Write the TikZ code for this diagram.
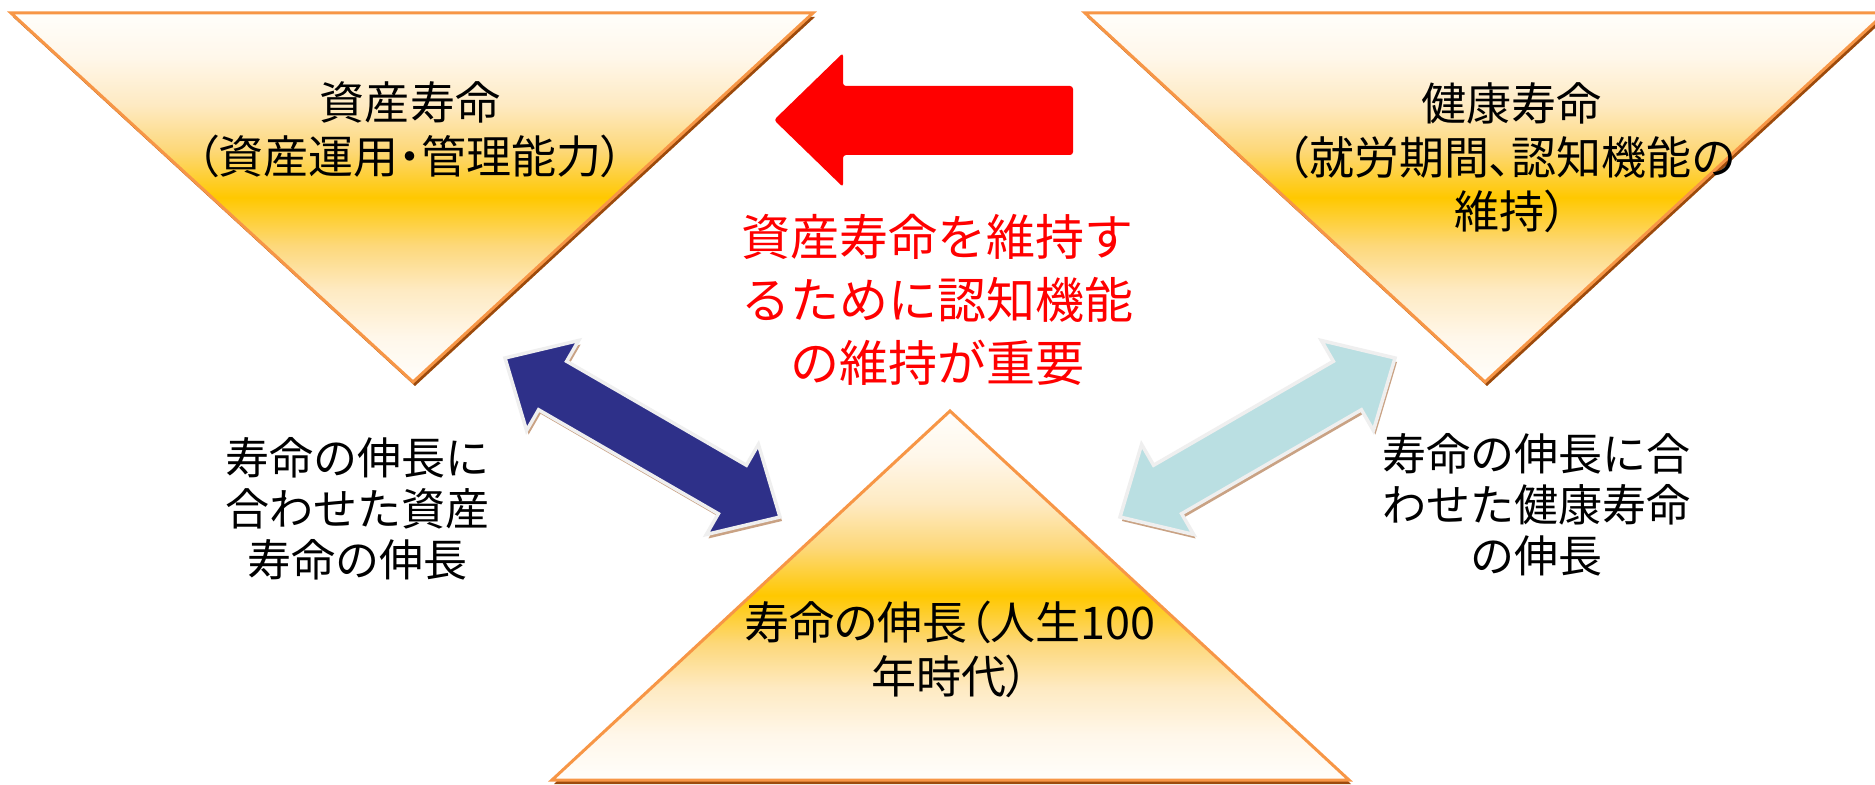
\documentclass[tikz,border=0pt]{standalone}
\usepackage{fontspec}
\newfontfamily\jp{Noto Sans CJK JP}
\newfontfamily\jpp[RawFeature=+palt]{Noto Sans CJK JP}
\usetikzlibrary{calc}
\definecolor{triorange}{HTML}{F79646}
\definecolor{trishade}{HTML}{9C4A0C}
\definecolor{gold}{HTML}{FFC800}
\definecolor{cream}{HTML}{FFFEFB}
\definecolor{creamA}{HTML}{FFF7EA}
\definecolor{creamB}{HTML}{FEEAC2}
\definecolor{creamC}{HTML}{FDD87A}
\definecolor{navyarrow}{HTML}{2E3089}
\definecolor{cyanarrow}{HTML}{BADFE2}
\definecolor{arrowshade}{HTML}{C9A284}
\definecolor{arrowrim}{HTML}{EFEFEF}
\pgfdeclareverticalshading{trigrad}{100bp}{color(0bp)=(cream); color(25bp)=(cream);
  color(31bp)=(creamA); color(37.5bp)=(creamB); color(43.5bp)=(creamC);
  color(50bp)=(gold); color(56.5bp)=(creamC); color(62.5bp)=(creamB);
  color(69bp)=(creamA); color(75bp)=(cream); color(100bp)=(cream)}
\newcommand\dblarrow[3]{%
  \path[#3] (#1)
    -- ($(#1)!22pt!(#2)!20.8pt!90:(#2)$)
    -- ($(#1)!22pt!(#2)!11.2pt!90:(#2)$)
    -- ($(#2)!22pt!(#1)!11.2pt!-90:(#1)$)
    -- ($(#2)!22pt!(#1)!20.8pt!-90:(#1)$)
    -- (#2)
    -- ($(#2)!22pt!(#1)!20.8pt!90:(#1)$)
    -- ($(#2)!22pt!(#1)!11.2pt!90:(#1)$)
    -- ($(#1)!22pt!(#2)!11.2pt!-90:(#2)$)
    -- ($(#1)!22pt!(#2)!20.8pt!-90:(#2)$)
    -- cycle;}
\begin{document}
\begin{tikzpicture}[x=0.4pt,y=-0.4pt,
  tribox/.style={draw=triorange, line width=1.2pt, line join=miter,
    shade, shading=trigrad},
  tribshadow/.style={fill=trishade, transform canvas={shift={(0.8pt,-1.6pt)}}},
  arrshadow/.style={fill=arrowshade, transform canvas={shift={(0.8pt,-1.6pt)}}},
  arrbody/.style={fill=#1, draw=arrowrim, line width=1.4pt, line join=miter},
  tritext/.style={align=center, inner sep=0pt, text=black,
    font=\jpp\fontsize{18pt}{21.6pt}\selectfont},
  lbltext/.style={align=center, inner sep=0pt, text=black,
    font=\jp\fontsize{17.6pt}{20.4pt}\selectfont},
  redtext/.style={align=center, inner sep=0pt, text=red,
    font=\jp\fontsize{19.6pt}{25.2pt}\selectfont}]
\useasboundingbox (0,0) rectangle (1875,785);
\clip (0,0) rectangle (1875,785);
\fill[white] (0,0) rectangle (1875,785);

% triangles
\fill[tribshadow] (11,13) -- (813,13) -- (413,382) -- cycle;
\path[tribox] (11,13) -- (813,13) -- (413,382) -- cycle;
\fill[tribshadow] (1085,13) -- (1885,13) -- (1485,382) -- cycle;
\path[tribox] (1085,13) -- (1885,13) -- (1485,382) -- cycle;
\fill[tribshadow] (950,411) -- (1349,780) -- (552,780) -- cycle;
\path[tribox] (950,411) -- (1349,780) -- (552,780) -- cycle;

% red arrow
\fill[red, rounded corners=1.2pt] (774,120) -- (843,53) -- (843,86) -- (1073,86)
  -- (1073,155) -- (843,155) -- (843,187) -- cycle;

% texts
\node[tritext] (asset) at (410,130) {資産寿命\\（資産運用・管理能力）};
\node[tritext] (health) at (1511,158) {健康寿命\\（就労期間、認知機能の\\維持）};
\node[tritext] (life) at (950,649) {寿命の伸長（人生100\\年時代）};
\node[redtext] (key) at (937,300) {資産寿命を維持す\\るために認知機能\\の維持が重要};
\node[lbltext] (leftlbl) at (357,509) {寿命の伸長に\\合わせた資産\\寿命の伸長};
\node[lbltext] (rightlbl) at (1536,505) {寿命の伸長に合\\わせた健康寿命\\の伸長};

% double arrows
\coordinate (na) at (505,358);
\coordinate (nb) at (780,517);
\coordinate (ca) at (1395,358);
\coordinate (cb) at (1120,517);
\dblarrow{na}{nb}{arrshadow}
\dblarrow{na}{nb}{arrbody=navyarrow}
\dblarrow{ca}{cb}{arrshadow}
\dblarrow{ca}{cb}{arrbody=cyanarrow}
\end{tikzpicture}
\end{document}
